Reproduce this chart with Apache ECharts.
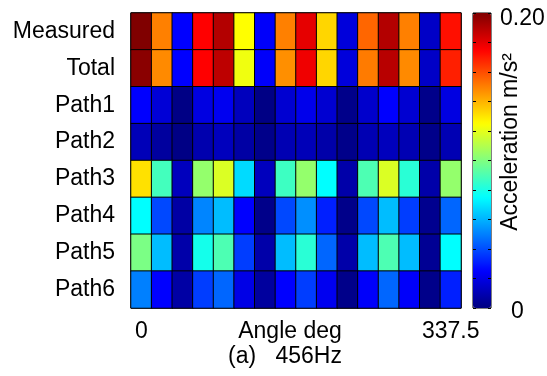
<!DOCTYPE html>
<html>
<head>
<meta charset="utf-8">
<script src="https://cdn.jsdelivr.net/npm/echarts@6/dist/echarts.min.js"></script>
<style>
  html, body { margin: 0; padding: 0; background: #fff; }
  #chart { width: 547px; height: 376px; }
</style>
</head>
<body>
<div id="chart"></div>
<script>
// angle categories (deg), 16 positions
const angles = ['0', '22.5', '45', '67.5', '90', '112.5', '135', '157.5',
  '180', '202.5', '225', '247.5', '270', '292.5', '315', '337.5']
const rowNames = ['Measured', 'Total', 'Path1', 'Path2', 'Path3', 'Path4', 'Path5', 'Path6']

// acceleration m/s^2
const measured = [0.200, 0.150, 0.025, 0.175, 0.190, 0.125, 0.024, 0.150, 0.180, 0.133, 0.018, 0.155, 0.190, 0.150, 0.014, 0.172]
const total    = [0.198, 0.148, 0.025, 0.175, 0.188, 0.122, 0.024, 0.147, 0.178, 0.133, 0.018, 0.151, 0.189, 0.148, 0.014, 0.169]
const path1    = [0.025, 0.017, 0.001, 0.019, 0.022, 0.012, 0.001, 0.016, 0.021, 0.016, 0.002, 0.015, 0.025, 0.016, 0.002, 0.019]
const path2    = [0.011, 0.006, 0.001, 0.009, 0.012, 0.007, 0.002, 0.010, 0.011, 0.008, 0.002, 0.010, 0.012, 0.010, 0.002, 0.010]
const path3    = [0.131, 0.088, 0.012, 0.104, 0.118, 0.068, 0.012, 0.087, 0.104, 0.075, 0.008, 0.090, 0.118, 0.083, 0.008, 0.104]
const path4    = [0.075, 0.039, 0.007, 0.051, 0.062, 0.025, 0.002, 0.039, 0.053, 0.031, 0.002, 0.039, 0.062, 0.037, 0.003, 0.045]
const path5    = [0.099, 0.062, 0.008, 0.079, 0.090, 0.037, 0.008, 0.062, 0.083, 0.045, 0.008, 0.062, 0.090, 0.062, 0.004, 0.075]
const path6    = [0.050, 0.025, 0.007, 0.037, 0.045, 0.020, 0.006, 0.025, 0.037, 0.022, 0.002, 0.024, 0.045, 0.024, 0.002, 0.031]

const rows = [measured, total, path1, path2, path3, path4, path5, path6]
const jet = ['#000080', '#0000ff', '#0080ff', '#00ffff', '#80ff80', '#ffff00', '#ff8000', '#ff0000', '#800000']

const data = []
rows.forEach((vals, r) => {
  vals.forEach((v, c) => data.push([c, r, v]))
})

const font = 'Liberation Sans, Arial, sans-serif'
const fs = 23
const chart = echarts.init(document.getElementById('chart'))

chart.setOption({
  animation: false,
  grid: [
    { left: 131, top: 13, width: 330, height: 295, show: true, borderColor: '#000', borderWidth: 1, backgroundColor: 'transparent' },
    { left: 473, top: 13, width: 18, height: 295, show: true, borderColor: '#000', borderWidth: 1, backgroundColor: 'transparent' }
  ],
  xAxis: [
    {
      type: 'category', gridIndex: 0, data: angles,
      axisLine: { show: false }, axisTick: { show: false },
      axisLabel: {
        interval: 0, margin: 12, color: '#000', fontSize: fs, fontFamily: font,
        formatter: (val, i) => (i === 0 || i === angles.length - 1) ? val : ''
      }
    },
    { type: 'value', gridIndex: 1, show: false, min: 0, max: 1 }
  ],
  yAxis: [
    {
      type: 'category', gridIndex: 0, data: rowNames, inverse: true,
      axisLine: { show: false }, axisTick: { show: false },
      axisLabel: { margin: 16, color: '#000', fontSize: fs, fontFamily: font }
    },
    {
      type: 'value', gridIndex: 1, min: 0, max: 0.2, interval: 0.02, position: 'left', z: 10,
      axisLine: { show: false }, splitLine: { show: false },
      axisTick: { inside: true, length: 3, lineStyle: { color: '#000' } },
      axisLabel: { show: false }
    },
    {
      type: 'value', gridIndex: 1, min: 0, max: 0.2, interval: 0.02, position: 'right', z: 10,
      axisLine: { show: false }, splitLine: { show: false },
      axisTick: { inside: true, length: 3, lineStyle: { color: '#000' } },
      axisLabel: { show: false }
    }
  ],
  visualMap: {
    type: 'continuous', min: 0, max: 0.2, seriesIndex: 0, z: 2,
    orient: 'vertical', left: 473, top: 13, itemWidth: 18, itemHeight: 295,
    padding: 0, calculable: false, text: null, showLabel: false,
    inRange: { color: jet }
  },
  series: [
    {
      type: 'heatmap', xAxisIndex: 0, yAxisIndex: 0, data: data,
      itemStyle: { borderColor: '#000', borderWidth: 1 },
      emphasis: { disabled: true }
    }
  ],
  graphic: [
    { type: 'text', left: 500, top: 7, z: 10, style: { text: '0.20', fontSize: fs, fontFamily: font, fill: '#000' } },
    { type: 'text', left: 511, top: 300, z: 10, style: { text: '0', fontSize: fs, fontFamily: font, fill: '#000' } },
    {
      type: 'text', x: 511, y: 142, rotation: Math.PI / 2, z: 10,
      style: { text: 'Acceleration m/s²', fontSize: fs, fontFamily: font, fill: '#000', align: 'center', verticalAlign: 'middle' }
    },
    { type: 'text', x: 290, y: 332, z: 10, style: { text: 'Angle deg', fontSize: fs, fontFamily: font, fill: '#000', align: 'center', verticalAlign: 'middle' } },
    { type: 'text', x: 285, y: 357, z: 10, style: { text: '(a)   456Hz', fontSize: fs, fontFamily: font, fill: '#000', align: 'center', verticalAlign: 'middle' } }
  ]
})
</script>
</body>
</html>
